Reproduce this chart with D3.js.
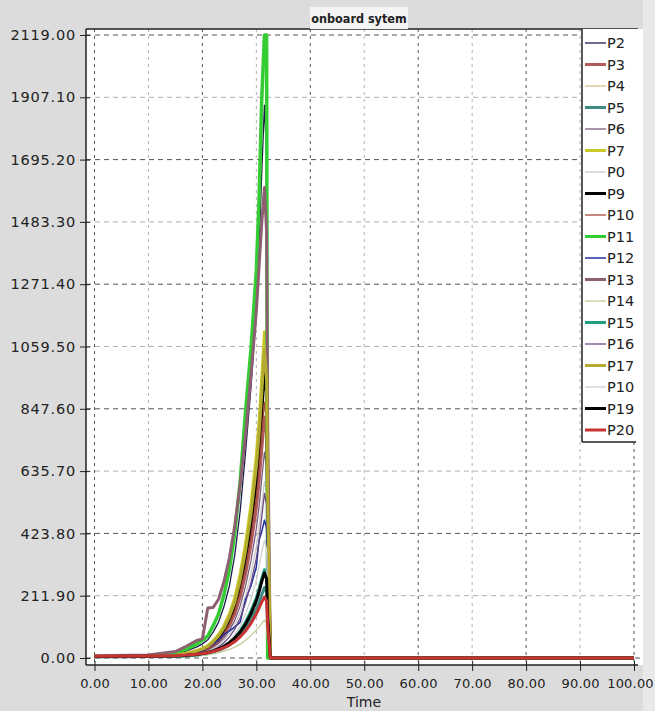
<!DOCTYPE html>
<html>
<head>
<meta charset="utf-8">
<script src="https://cdn.jsdelivr.net/npm/d3@7"></script>
<style>
  body { margin: 0; background: #dcdcdc; }
  svg { display: block; }
</style>
</head>
<body>
<svg id="chart"></svg>
<script>

// temps (axe x)
const times = [0, 10, 15, 17, 19, 20, 21, 22, 23, 24, 25, 26, 27, 28, 29, 30, 30.5, 31, 31.5, 31.9, 32.1, 32.6, 100];

// valeurs par série
const p2Values  = [5, 7, 14, 24, 38, 48, 62, 88, 122, 175, 245, 350, 500, 700, 920, 1180, 1400, 1650, 1880, 1700, 900, 0, 0];
const p3Values  = [5, 6, 8, 12, 19, 24, 30, 42, 57, 80, 110, 150, 208, 285, 385, 510, 600, 710, 820, 760, 420, 0, 0];
const p4Values  = [4, 5, 9, 15, 24, 31, 40, 56, 78, 108, 148, 200, 280, 380, 500, 660, 770, 880, 1000, 900, 520, 0, 0];
const p5Values  = [4, 5, 6, 7, 10, 12, 15, 20, 26, 34, 44, 58, 76, 100, 130, 165, 188, 215, 240, 225, 120, 0, 0];
const p6Values  = [4, 5, 7, 10, 16, 20, 26, 36, 49, 68, 94, 128, 178, 245, 330, 440, 515, 610, 700, 650, 360, 0, 0];
const p7Values  = [5, 6, 10, 16, 26, 33, 42, 58, 80, 110, 150, 205, 285, 390, 520, 690, 800, 950, 1110, 1000, 600, 0, 0];
const p8Values  = [3, 4, 6, 9, 14, 18, 23, 32, 43, 60, 82, 112, 155, 212, 285, 380, 445, 525, 600, 560, 300, 0, 0];
const p9Values  = [5, 6, 8, 13, 21, 27, 35, 48, 66, 92, 128, 175, 245, 335, 450, 600, 700, 830, 980, 900, 500, 0, 0];
const p10Values = [4, 5, 8, 12, 20, 25, 32, 44, 60, 84, 116, 160, 222, 305, 410, 545, 640, 760, 870, 800, 450, 0, 0];
const p11Values = [6, 8, 18, 30, 48, 60, 75, 110, 150, 215, 300, 425, 600, 840, 1050, 1320, 1560, 1900, 2119, 2119, 0, 0, 0];
const p12Values = [4, 5, 6, 8, 12, 25, 38, 48, 60, 80, 92, 105, 122, 200, 245, 310, 400, 430, 469, 440, 250, 0, 0];
const p13Values = [8, 10, 22, 40, 60, 65, 170, 172, 200, 260, 340, 450, 590, 760, 960, 1180, 1330, 1480, 1600, 1450, 800, 0, 0];
const p14Values = [3, 4, 5, 6, 8, 9, 11, 14, 18, 23, 29, 37, 47, 60, 76, 95, 106, 118, 129, 120, 60, 0, 0];
const p15Values = [4, 5, 6, 8, 11, 14, 18, 23, 30, 40, 52, 70, 92, 122, 160, 205, 235, 270, 300, 280, 150, 0, 0];
const p16Values = [3, 4, 6, 8, 12, 15, 20, 27, 37, 52, 71, 98, 136, 188, 255, 340, 400, 480, 560, 520, 280, 0, 0];
const p17Values = [5, 6, 9, 15, 24, 30, 40, 55, 75, 102, 140, 190, 265, 365, 490, 650, 760, 900, 1050, 950, 560, 0, 0];
const p18Values = [3, 4, 5, 7, 10, 13, 17, 23, 31, 43, 58, 80, 110, 150, 200, 265, 310, 360, 400, 370, 200, 0, 0];
const p19Values = [5, 6, 7, 9, 12, 15, 19, 24, 31, 40, 52, 68, 88, 115, 150, 195, 225, 260, 289, 270, 140, 0, 0];
const p20Values = [6, 7, 8, 10, 13, 15, 18, 22, 28, 35, 44, 56, 72, 92, 118, 150, 170, 190, 207, 195, 110, 0, 0];

// libellés de la légende (tels qu'affichés)
const seriesLabels = ["P2", "P3", "P4", "P5", "P6", "P7", "P0", "P9", "P10", "P11",
                      "P12", "P13", "P14", "P15", "P16", "P17", "P10", "P19", "P20"];

const yTicks = [0, 211.9, 423.8, 635.7, 847.6, 1059.5, 1271.4, 1483.3, 1695.2, 1907.1, 2119];
const xTicks = [0, 10, 20, 30, 40, 50, 60, 70, 80, 90, 100];

// styles
const seriesColors = ["#1c1c4c", "#b05a5a", "#dcc08a", "#3c8c84", "#7c5c7c", "#c8c828", "#c8c8c8", "#000000", "#a84a3c", "#33cc33",
                      "#2030a0", "#8c6070", "#c4cc98", "#20a080", "#6c4c84", "#b4ac30", "#d0d0d0", "#000000", "#c83232"];
const seriesWidths = [1.3, 3, 1.3, 3, 1.3, 3, 1.3, 3, 1.3, 3.5,
                      1.5, 3, 1.3, 3, 1.3, 3, 1.3, 3, 3];

const allValues = [p2Values, p3Values, p4Values, p5Values, p6Values, p7Values, p8Values, p9Values, p10Values, p11Values,
                   p12Values, p13Values, p14Values, p15Values, p16Values, p17Values, p18Values, p19Values, p20Values];

const series = seriesLabels.map((label, i) => ({
  label: label,
  color: seriesColors[i],
  width: seriesWidths[i],
  points: times.map((t, j) => ({t: t, v: allValues[i][j]}))
}));

const W = 655, H = 711;
const plot = {left: 86, right: 643, top: 29, bottom: 665};
const font = "'DejaVu Sans', Verdana, sans-serif";

const svg = d3.select("#chart")
  .attr("width", W)
  .attr("height", H);

svg.append("rect")
  .attr("width", W).attr("height", H)
  .attr("fill", "#dcdcdc");

// bande claire à droite
svg.append("rect")
  .attr("x", plot.right).attr("y", 0)
  .attr("width", W - plot.right).attr("height", H)
  .attr("fill", "#e9e9e9");

const x = d3.scaleLinear().domain([0, 100]).range([94.5, 634]);
const y = d3.scaleLinear().domain([0, 2119]).range([658, 35]);

// zone de tracé
svg.append("rect")
  .attr("x", plot.left).attr("y", plot.top)
  .attr("width", plot.right - plot.left)
  .attr("height", plot.bottom - plot.top)
  .attr("fill", "#ffffff");

// grille
const grid = svg.append("g");
grid.selectAll("line.h")
  .data(yTicks)
  .enter().append("line")
  .attr("class", "h")
  .attr("x1", plot.left).attr("x2", plot.right)
  .attr("y1", d => y(d)).attr("y2", d => y(d))
  .attr("stroke", (d, i) => i % 2 === 0 ? "#555" : "#b0b0b0")
  .attr("stroke-width", 1)
  .attr("stroke-dasharray", "5,4");

grid.selectAll("line.v")
  .data(xTicks)
  .enter().append("line")
  .attr("class", "v")
  .attr("x1", d => x(d)).attr("x2", d => x(d))
  .attr("y1", plot.top).attr("y2", plot.bottom)
  .attr("stroke", (d, i) => i % 2 === 0 ? "#555" : "#b0b0b0")
  .attr("stroke-width", 1)
  .attr("stroke-dasharray", "3,4");

// courbes
svg.append("clipPath").attr("id", "clip")
  .append("rect")
  .attr("x", plot.left).attr("y", plot.top)
  .attr("width", plot.right - plot.left)
  .attr("height", plot.bottom - plot.top);

const line = d3.line()
  .x(d => x(d.t))
  .y(d => y(d.v));

svg.append("g")
  .attr("clip-path", "url(#clip)")
  .selectAll("path")
  .data(series)
  .enter().append("path")
  .attr("d", d => line(d.points))
  .attr("fill", "none")
  .attr("stroke", d => d.color)
  .attr("stroke-width", d => d.width)
  .attr("stroke-linejoin", "round");

// axes
const yAxis = d3.axisLeft(y)
  .tickValues(yTicks)
  .tickFormat(d3.format(".2f"))
  .tickSizeInner(6)
  .tickSizeOuter(0)
  .tickPadding(4);

const gy = svg.append("g")
  .attr("transform", `translate(${plot.left},0)`)
  .call(yAxis);
gy.select(".domain").remove();
gy.selectAll(".tick line").attr("x1", 4).attr("stroke", "#222");
gy.selectAll(".tick text")
  .style("font-family", font)
  .style("font-size", "14.5px")
  .style("letter-spacing", "0.8px")
  .attr("fill", "#222");

const xAxis = d3.axisBottom(x)
  .tickValues(xTicks)
  .tickFormat(d3.format(".2f"))
  .tickSizeInner(6)
  .tickSizeOuter(0)
  .tickPadding(8);

const gx = svg.append("g")
  .attr("transform", `translate(0,${plot.bottom})`)
  .call(xAxis);
gx.select(".domain").remove();
gx.selectAll(".tick line").attr("y1", -4).attr("stroke", "#222");
gx.selectAll(".tick text")
  .style("font-family", font)
  .style("font-size", "13px")
  .style("letter-spacing", "0.2px")
  .attr("fill", "#222")
  .attr("dx", d => d === 100 ? -4 : 0);

// bordures
svg.append("line")
  .attr("x1", plot.left).attr("x2", plot.left)
  .attr("y1", plot.top).attr("y2", plot.bottom)
  .attr("stroke", "#222").attr("stroke-width", 1.5);
svg.append("line")
  .attr("x1", plot.left).attr("x2", 638)
  .attr("y1", plot.bottom).attr("y2", plot.bottom)
  .attr("stroke", "#222").attr("stroke-width", 1.5);
svg.append("line")
  .attr("x1", plot.left).attr("x2", 638)
  .attr("y1", plot.top).attr("y2", plot.top)
  .attr("stroke", "#222").attr("stroke-width", 1.5);

// titre de l'axe x
svg.append("text")
  .attr("x", 364).attr("y", 707)
  .attr("text-anchor", "middle")
  .style("font-family", font)
  .style("font-size", "14px")
  .attr("fill", "#222")
  .text("Time");

// onglet du titre
svg.append("rect")
  .attr("x", 310).attr("y", 7)
  .attr("width", 98).attr("height", 22)
  .attr("fill", "#f4f4f4");
svg.append("text")
  .attr("x", 359).attr("y", 23)
  .attr("text-anchor", "middle")
  .style("font-family", "'DejaVu Sans Condensed', 'DejaVu Sans', sans-serif")
  .style("font-size", "12.5px")
  .style("font-weight", "bold")
  .attr("fill", "#222")
  .text("onboard sytem");

// légende
const legendX = 582, legendTop = plot.top, legendBottom = 442;
svg.append("rect")
  .attr("x", legendX).attr("y", legendTop)
  .attr("width", 58).attr("height", legendBottom - legendTop)
  .attr("fill", "#ffffff");
svg.append("line")
  .attr("x1", legendX).attr("x2", legendX)
  .attr("y1", legendTop).attr("y2", legendBottom)
  .attr("stroke", "#222").attr("stroke-width", 1.5);
svg.append("line")
  .attr("x1", legendX).attr("x2", 636)
  .attr("y1", legendBottom).attr("y2", legendBottom)
  .attr("stroke", "#222").attr("stroke-width", 1.5);

const legend = svg.selectAll("g.legend_entree")
  .data(series)
  .enter().append("g")
  .attr("class", "legend_entree")
  .attr("transform", (d, i) => `translate(${legendX},${43 + i * 21.5})`);

legend.append("line")
  .attr("x1", 3).attr("x2", 24)
  .attr("y1", 0).attr("y2", 0)
  .attr("stroke", d => d.color)
  .attr("stroke-width", d => Math.min(d.width, 3));

legend.append("text")
  .attr("x", 25).attr("y", 0)
  .attr("dy", "0.36em")
  .style("font-family", font)
  .style("font-size", "14.5px")
  .attr("fill", "#222")
  .text(d => d.label);

</script>
</body>
</html>
